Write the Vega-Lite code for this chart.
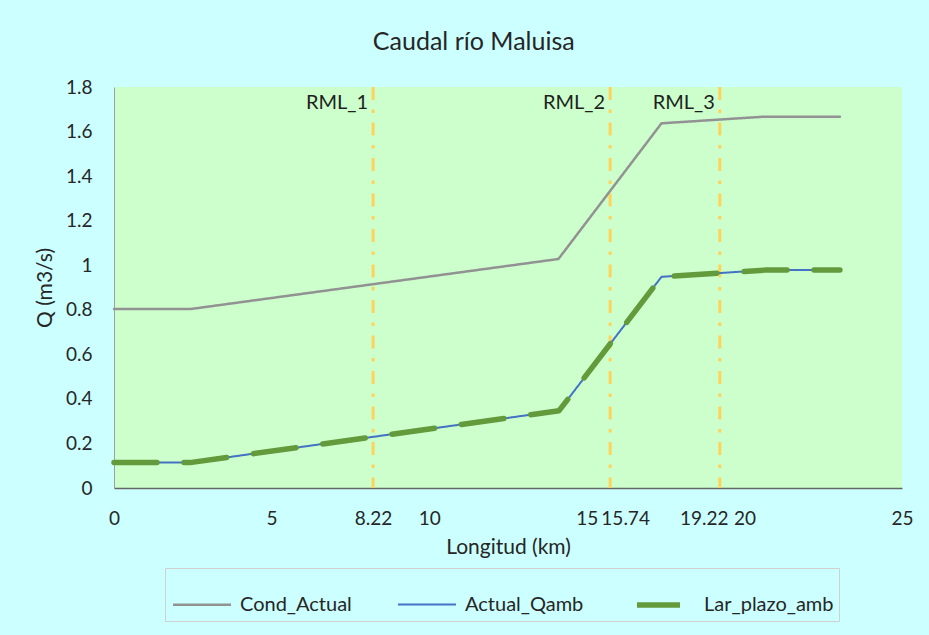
{
  "$schema": "https://vega.github.io/schema/vega-lite/v6.json",
  "autosize": "none",
  "width": 788,
  "height": 401,
  "padding": {"left": 114, "top": 87, "right": 27, "bottom": 147},
  "background": "#ccffff",
  "title": {"text": "Caudal río Maluisa", "font": "Lato", "fontSize": 25, "fontWeight": "normal", "color": "#262626", "anchor": "middle", "frame": "bounds", "offset": 23},
  "config": {
    "view": {"fill": "#ccffcc", "stroke": null},
    "font": "Lato"
  },
  "datasets": {
    "series": [
      {"km": 0, "Q": 0.803, "serie": "Cond_Actual"},
      {"km": 2.41, "Q": 0.803, "serie": "Cond_Actual"},
      {"km": 14.1, "Q": 1.028, "serie": "Cond_Actual"},
      {"km": 17.37, "Q": 1.637, "serie": "Cond_Actual"},
      {"km": 20.65, "Q": 1.667, "serie": "Cond_Actual"},
      {"km": 23.03, "Q": 1.667, "serie": "Cond_Actual"},
      {"km": 0, "Q": 0.114, "serie": "Actual_Qamb"},
      {"km": 2.41, "Q": 0.114, "serie": "Actual_Qamb"},
      {"km": 14.12, "Q": 0.347, "serie": "Actual_Qamb"},
      {"km": 17.37, "Q": 0.948, "serie": "Actual_Qamb"},
      {"km": 20.65, "Q": 0.978, "serie": "Actual_Qamb"},
      {"km": 23.03, "Q": 0.978, "serie": "Actual_Qamb"},
      {"km": 0, "Q": 0.114, "serie": "Lar_plazo_amb"},
      {"km": 2.41, "Q": 0.114, "serie": "Lar_plazo_amb"},
      {"km": 14.12, "Q": 0.347, "serie": "Lar_plazo_amb"},
      {"km": 17.37, "Q": 0.948, "serie": "Lar_plazo_amb"},
      {"km": 20.65, "Q": 0.978, "serie": "Lar_plazo_amb"},
      {"km": 23.03, "Q": 0.978, "serie": "Lar_plazo_amb"}
    ],
    "marcas": [
      {"km": 8.22, "label": "RML_1"},
      {"km": 15.74, "label": "RML_2"},
      {"km": 19.22, "label": "RML_3"}
    ]
  },
  "layer": [
    {
      "data": {"name": "marcas"},
      "mark": {"type": "rule", "color": "#ffd25a", "strokeWidth": 3, "strokeDash": [13, 9.5, 3.5, 9.5]},
      "encoding": {
        "x": {"field": "km", "type": "quantitative"}
      }
    },
    {
      "data": {"name": "marcas"},
      "mark": {"type": "text", "align": "right", "baseline": "middle", "dx": -5, "fontSize": 20, "color": "#1f1f1f", "font": "Lato"},
      "encoding": {
        "x": {"field": "km", "type": "quantitative"},
        "y": {"datum": 1.73, "type": "quantitative"},
        "text": {"field": "label"}
      }
    },
    {
      "data": {"name": "series"},
      "mark": {"type": "line", "strokeCap": "round", "strokeJoin": "round"},
      "encoding": {
        "x": {
          "field": "km", "type": "quantitative",
          "scale": {"domain": [0, 25], "nice": false, "zero": false},
          "axis": {
            "title": "Longitud (km)",
            "values": [0, 5, 8.22, 10, 15, 15.74, 19.22, 20, 25],
            "format": ".4~g",
            "labelOverlap": false,
            "labelFlush": false,
            "labelOffset": {"condition": [{"test": "datum.value == 15.74", "value": 15}, {"test": "datum.value == 19.22", "value": -16}], "value": 0},
            "ticks": false,
            "grid": false,
            "labelPadding": 21,
            "labelFontSize": 19,
            "labelColor": "#262626",
            "titleFontSize": 21,
            "titleFontWeight": "normal",
            "titleColor": "#262626",
            "titlePadding": 8,
            "domainColor": "#666666",
            "domainWidth": 1.5
          }
        },
        "y": {
          "field": "Q", "type": "quantitative",
          "scale": {"domain": [0, 1.8], "nice": false},
          "axis": {
            "title": "Q (m3/s)",
            "values": [0, 0.2, 0.4, 0.6, 0.8, 1, 1.2, 1.4, 1.6, 1.8],
            "format": ".4~g",
            "ticks": false,
            "grid": false,
            "labelPadding": 22,
            "labelFontSize": 19,
            "labelColor": "#262626",
            "titleFontSize": 21,
            "titleFontWeight": "normal",
            "titleColor": "#262626",
            "titlePadding": 10,
            "domainColor": "#a0a0a0"
          }
        },
        "color": {
          "field": "serie", "type": "nominal",
          "scale": {"domain": ["Cond_Actual", "Actual_Qamb", "Lar_plazo_amb"], "range": ["#929292", "#4472c4", "#639a3c"]},
          "legend": {
            "title": null,
            "orient": "none",
            "legendX": 51,
            "legendY": 481,
            "direction": "horizontal",
            "columns": 3,
            "symbolType": "stroke",
            "symbolSize": 3364,
            "labelFontSize": 20,
            "labelColor": "#262626",
            "labelFont": "Lato",
            "labelOffset": 6,
            "columnPadding": 42,
            "padding": 5,
            "strokeColor": "#d0d0d0",
            "fillColor": "#ccffff"
          }
        },
        "strokeWidth": {
          "field": "serie", "type": "nominal",
          "scale": {"type": "ordinal", "domain": ["Cond_Actual", "Actual_Qamb", "Lar_plazo_amb"], "range": [2.5, 2, 5.5]}
        },
        "strokeDash": {
          "field": "serie", "type": "nominal",
          "scale": {"domain": ["Cond_Actual", "Actual_Qamb", "Lar_plazo_amb"], "range": [[1, 0], [1, 0], [43, 27]]}
        }
      }
    }
  ]
}
